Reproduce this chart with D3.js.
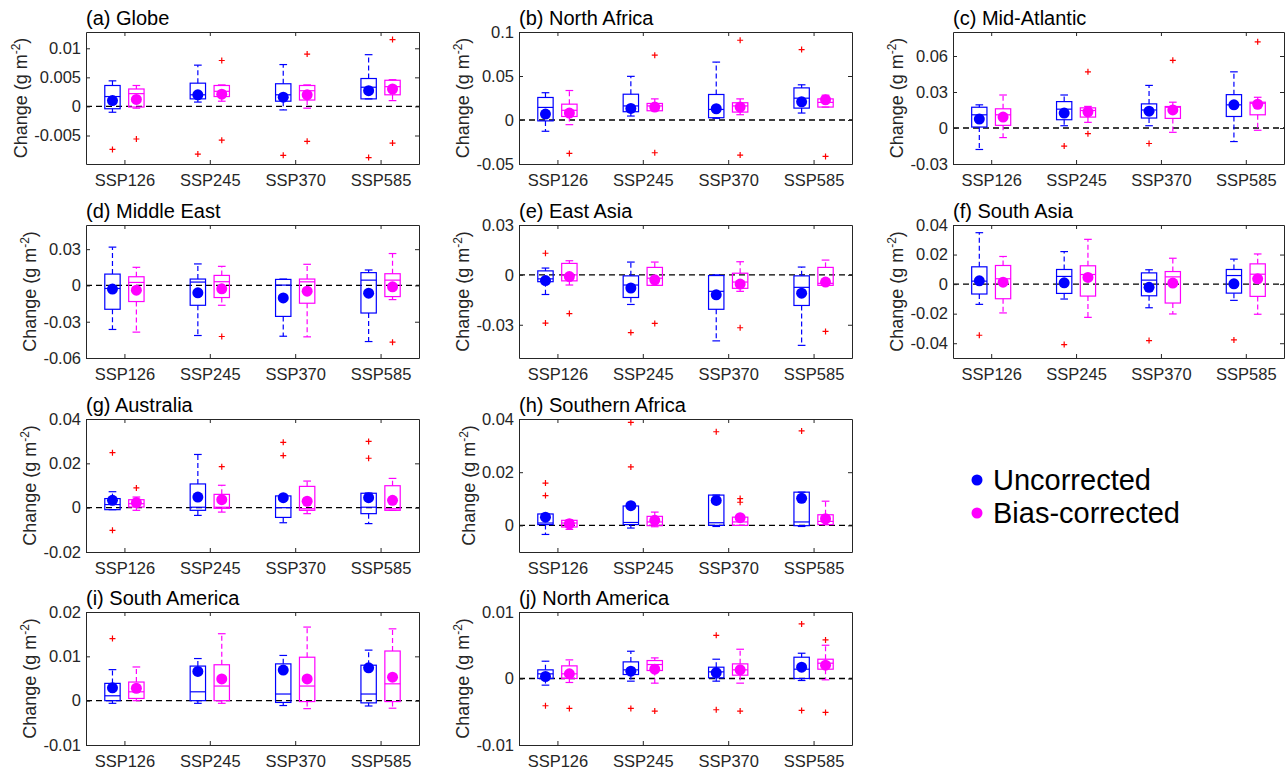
<!DOCTYPE html>
<html>
<head>
<meta charset="utf-8">
<script src="https://cdn.jsdelivr.net/npm/d3@7"></script>
<style>
  body { margin: 0; background: #fff; }
  svg { font-family: "Liberation Sans", Arial, sans-serif; }
  .axis path, .axis line { stroke: #262626; stroke-width: 1; }
  .axis text { fill: #262626; font-size: 16.5px; font-family: "Liberation Sans", Arial, sans-serif; }
</style>
</head>
<body>
<svg id="chart" width="1287" height="770"></svg>
<script>
var scenarios = ["SSP126", "SSP245", "SSP370", "SSP585"];
var panelTitles = ["(a) Globe", "(b) North Africa", "(c) Mid-Atlantic", "(d) Middle East", "(e) East Asia",
                   "(f) South Asia", "(g) Australia", "(h) Southern Africa", "(i) South America", "(j) North America"];
var yDomains = [[-0.0099, 0.0128], [-0.05, 0.1], [-0.03, 0.08], [-0.06, 0.05], [-0.05, 0.03],
                [-0.05, 0.04], [-0.02, 0.04], [-0.01, 0.04], [-0.01, 0.02], [-0.01, 0.01]];
var yTicks = [[-0.005, 0, 0.005, 0.01], [-0.05, 0, 0.05, 0.1], [-0.03, 0, 0.03, 0.06], [-0.06, -0.03, 0, 0.03],
              [-0.03, 0, 0.03], [-0.04, -0.02, 0, 0.02, 0.04], [-0.02, 0, 0.02, 0.04], [0, 0.02, 0.04],
              [-0.01, 0, 0.01, 0.02], [-0.01, 0, 0.01]];
var seriesNames = ["Uncorrected", "Bias-corrected"];

// each row: [lower whisker, q1, median, q3, upper whisker, mean, [outliers]]
var globeUnc = [[-0.001, -0.0004, 0.0017, 0.0036, 0.0044, 0.001, [-0.0074]],
                [0.00075, 0.0013, 0.002, 0.004, 0.0071, 0.002, [-0.0082]],
                [-0.0006, 0.0009, 0.002, 0.0039, 0.0072, 0.0016, [-0.0084]],
                [0.0013, 0.0013, 0.0033, 0.0048, 0.0089, 0.0027, [-0.0088]]];
var globeBc = [[-0.0003, -0.0001, 0.0022, 0.003, 0.0036, 0.0012, [-0.0056]],
               [0.0009, 0.0017, 0.0026, 0.0036, 0.0037, 0.0021, [0.0079, -0.0058]],
               [-0.0003, 0.0011, 0.0027, 0.0036, 0.0037, 0.002, [0.009, -0.006]],
               [0.001, 0.002, 0.0034, 0.0045, 0.0046, 0.003, [0.0115, -0.0063]]];
var nAfricaUnc = [[-0.0128, -0.001, 0.0143, 0.0256, 0.031, 0.0068, []],
                  [0.0045, 0.0094, 0.016, 0.0293, 0.0496, 0.0132, []],
                  [0.0019, 0.0026, 0.012, 0.029, 0.0658, 0.0128, []],
                  [0.0079, 0.0135, 0.0248, 0.0365, 0.04, 0.0207, [0.08]]];
var nAfricaBc = [[-0.0053, 0.004, 0.011, 0.018, 0.0335, 0.0079, [-0.038]],
                 [0.0105, 0.0105, 0.016, 0.0188, 0.024, 0.0147, [0.0737, -0.0372]],
                 [0.006, 0.009, 0.016, 0.0196, 0.024, 0.0147, [0.0906, -0.0399]],
                 [0.0147, 0.0147, 0.02, 0.024, 0.0282, 0.023, [-0.0414]]];
var midAtlUnc = [[-0.0179, 0.0008, 0.011, 0.0173, 0.0193, 0.0074, []],
                 [0.0019, 0.0069, 0.0157, 0.022, 0.0275, 0.0124, [-0.0151]],
                 [0.0019, 0.0083, 0.015, 0.0201, 0.0355, 0.014, [-0.0129]],
                 [-0.0113, 0.0096, 0.0193, 0.0278, 0.0468, 0.0193, []]];
var midAtlBc = [[-0.008, 0.0022, 0.011, 0.016, 0.0275, 0.0091, []],
                [0.0047, 0.0091, 0.0146, 0.0168, 0.018, 0.0135, [0.0468, -0.0047]],
                [-0.0036, 0.008, 0.0173, 0.0179, 0.0215, 0.0151, [0.0564]],
                [-0.0019, 0.011, 0.0206, 0.0215, 0.0256, 0.0198, [0.0718]]];
var midEastUnc = [[-0.0364, -0.0197, -0.0025, 0.0094, 0.0317, -0.003, []],
                  [-0.0414, -0.0164, 0.0028, 0.0053, 0.0178, -0.0061, []],
                  [-0.042, -0.0256, 0.0003, 0.005, 0.0053, -0.0103, []],
                  [-0.0464, -0.0228, 0.0044, 0.0106, 0.0128, -0.0064, []]];
var midEastBc = [[-0.0386, -0.0133, 0.0025, 0.0072, 0.015, -0.0039, []],
                 [-0.0164, -0.01, 0.0031, 0.0083, 0.0158, -0.0028, [-0.0422]],
                 [-0.0425, -0.0147, 0.003, 0.0053, 0.0175, -0.0047, []],
                 [-0.0117, -0.0092, 0.0044, 0.0097, 0.0264, -0.0011, [-0.0469]]];
var eAsiaUnc = [[-0.0118, -0.0041, -0.0024, 0.0024, 0.0041, -0.0034, [0.013, -0.029]],
                [-0.0178, -0.0136, -0.0061, -0.0006, 0.0077, -0.0079, [-0.0347]],
                [-0.0397, -0.0207, -0.0099, -0.0004, 0, -0.012, []],
                [-0.0424, -0.0184, -0.0075, -0.0006, 0.0047, -0.011, []]];
var eAsiaBc = [[-0.0061, -0.0036, 0, 0.0069, 0.0085, -0.001, [-0.0233]],
               [-0.0063, -0.0063, -0.002, 0.0045, 0.0077, -0.003, [-0.0292]],
               [-0.0099, -0.0081, -0.0043, 0.001, 0.0079, -0.0055, [-0.0318]],
               [-0.0063, -0.0063, -0.0051, 0.0045, 0.0089, -0.0043, [-0.034]]];
var sAsiaUnc = [[-0.0137, -0.0067, 0.002, 0.0117, 0.0348, 0.0022, [-0.0346]],
                [-0.0101, -0.0063, 0.0052, 0.0099, 0.022, 0.0009, [-0.0409]],
                [-0.016, -0.0079, 0.0027, 0.0076, 0.0097, -0.0022, [-0.0382]],
                [-0.011, -0.0061, 0.0058, 0.0099, 0.0169, 0.0002, [-0.0378]]];
var sAsiaBc = [[-0.0195, -0.0099, 0.0036, 0.0126, 0.0187, 0.0013, []],
               [-0.0225, -0.0081, 0.0065, 0.0124, 0.0303, 0.0045, []],
               [-0.0202, -0.0128, 0.0049, 0.0085, 0.0175, 0.0007, []],
               [-0.0204, -0.0083, 0.0067, 0.0137, 0.0204, 0.0036, []]];
var ausUnc = [[-0.0009, -0.0009, 0.0014, 0.0041, 0.0072, 0.0033, [0.0248, -0.0102]],
              [-0.0035, -0.0012, 0.0002, 0.0107, 0.024, 0.0048, []],
              [-0.0068, -0.0044, 0, 0.0053, 0.0055, 0.0045, [0.0295, 0.0235]],
              [-0.0072, -0.0027, 0.0002, 0.0065, 0.0066, 0.0045, [0.0299, 0.0223]]];
var ausBc = [[-0.0012, 0.0003, 0.0018, 0.0036, 0.0048, 0.0023, [0.0089]],
             [-0.002, -0.0003, 0.0002, 0.006, 0.0101, 0.0036, [0.0185]],
             [-0.0027, -0.0012, -0.0005, 0.0096, 0.012, 0.0029, []],
             [-0.0012, -0.0012, -0.0005, 0.0099, 0.0132, 0.0033, []]];
var sAfricaUnc = [[-0.0034, 0.0003, 0.0009, 0.0043, 0.0044, 0.0031, [0.0159, 0.0112]],
                  [-0.001, 0.0003, 0.0011, 0.0073, 0.0074, 0.0074, [0.0387, 0.022]],
                  [-0.0004, 0, 0.001, 0.0114, 0.0114, 0.0094, [0.0352]],
                  [-0.0004, -0.0001, 0.0013, 0.0125, 0.0125, 0.0102, [0.0355]]];
var sAfricaBc = [[-0.0015, -0.0006, 0.0009, 0.0019, 0.0021, 0.0006, []],
                 [-0.0005, -0.0001, 0.0013, 0.0034, 0.005, 0.0019, []],
                 [0, 0, 0.0013, 0.0031, 0.0031, 0.0029, [0.0101, 0.0087]],
                 [0.0003, 0.0003, 0.0015, 0.004, 0.0091, 0.0025, []]];
var sAmericaUnc = [[-0.0006, 0, 0.0011, 0.0039, 0.007, 0.0029, [0.014]],
                   [-0.0006, 0, 0.002, 0.0078, 0.0095, 0.0066, []],
                   [-0.0011, -0.0004, 0.0015, 0.0083, 0.0102, 0.0069, []],
                   [-0.0012, -0.0005, 0.0015, 0.008, 0.0114, 0.0074, []]];
var sAmericaBc = [[0, 0.0005, 0.002, 0.0042, 0.0076, 0.0028, []],
                  [-0.0006, 0, 0.0033, 0.0081, 0.0151, 0.0049, []],
                  [-0.0018, -0.0002, 0.0033, 0.0098, 0.0166, 0.0049, []],
                  [-0.0017, -0.0002, 0.0038, 0.0112, 0.0162, 0.0053, []]];
var nAmericaUnc = [[-0.001, 0, 0.0007, 0.0013, 0.0026, 0.0003, [-0.0041]],
                   [-0.0004, 0.0006, 0.0013, 0.0025, 0.0041, 0.0011, [-0.0045]],
                   [-0.0004, 0.0001, 0.001, 0.0017, 0.0029, 0.0009, [0.0065, -0.0047]],
                   [-0.0003, 0, 0.0014, 0.0032, 0.0038, 0.0017, [0.0082, -0.0048]]];
var nAmericaBc = [[-0.0006, 0, 0.0007, 0.0019, 0.0028, 0.0007, [-0.0045]],
                  [-0.0007, 0.0012, 0.0021, 0.0027, 0.0031, 0.0014, [-0.0049]],
                  [-0.0007, 0.0005, 0.0013, 0.0022, 0.0044, 0.0013, [-0.0049]],
                  [-0.0002, 0.0014, 0.0023, 0.0029, 0.005, 0.002, [0.0058, -0.0051]]];

var panelData = [[globeUnc, globeBc], [nAfricaUnc, nAfricaBc], [midAtlUnc, midAtlBc],
                 [midEastUnc, midEastBc], [eAsiaUnc, eAsiaBc], [sAsiaUnc, sAsiaBc],
                 [ausUnc, ausBc], [sAfricaUnc, sAfricaBc], [sAmericaUnc, sAmericaBc],
                 [nAmericaUnc, nAmericaBc]];

var colors = ["#0000ff", "#ff00ff"];
var colX = [[86, 419], [519, 852], [953, 1284]];
var rowY = [[32, 164], [225, 358], [419, 552], [612, 745]];
var panelPos = [[0, 0], [0, 1], [0, 2], [1, 0], [1, 1], [1, 2], [2, 0], [2, 1], [3, 0], [3, 1]];

var svg = d3.select("#chart");

function drawPanel(i) {
  var r = panelPos[i][0], c = panelPos[i][1];
  var w = colX[c][1] - colX[c][0];
  var h = rowY[r][1] - rowY[r][0];
  var g = svg.append("g").attr("transform", "translate(" + colX[c][0] + "," + rowY[r][0] + ")");

  var x = d3.scaleLinear().domain([0.55, 4.45]).range([0, w]);
  var y = d3.scaleLinear().domain(yDomains[i]).range([h, 0]);
  var halfBox = x(0.09) - x(0);

  // zero reference line
  g.append("line")
   .attr("x1", 0).attr("x2", w)
   .attr("y1", y(0)).attr("y2", y(0))
   .attr("stroke", "#000").attr("stroke-width", 1.3)
   .attr("stroke-dasharray", "6,4");

  panelData[i].forEach(function(series, s) {
    var col = colors[s];
    series.forEach(function(d, k) {
      var cx = x(k + 1 + (s === 0 ? -0.14 : 0.14));
      var bg = g.append("g");
      // whiskers
      bg.append("line").attr("x1", cx).attr("x2", cx).attr("y1", y(d[3])).attr("y2", y(d[4]))
        .attr("stroke", col).attr("stroke-width", 1.2).attr("stroke-dasharray", "5,3");
      bg.append("line").attr("x1", cx).attr("x2", cx).attr("y1", y(d[1])).attr("y2", y(d[0]))
        .attr("stroke", col).attr("stroke-width", 1.2).attr("stroke-dasharray", "5,3");
      // caps
      [d[0], d[4]].forEach(function(v) {
        bg.append("line").attr("x1", cx - halfBox / 2).attr("x2", cx + halfBox / 2)
          .attr("y1", y(v)).attr("y2", y(v))
          .attr("stroke", col).attr("stroke-width", 1.2);
      });
      // box
      bg.append("rect")
        .attr("x", cx - halfBox).attr("width", halfBox * 2)
        .attr("y", y(d[3])).attr("height", Math.max(0.5, y(d[1]) - y(d[3])))
        .attr("fill", "none").attr("stroke", col).attr("stroke-width", 1.2);
      // median
      bg.append("line").attr("x1", cx - halfBox).attr("x2", cx + halfBox)
        .attr("y1", y(d[2])).attr("y2", y(d[2]))
        .attr("stroke", col).attr("stroke-width", 1.2);
      // outliers
      d[6].forEach(function(v) {
        var oy = y(v);
        bg.append("path")
          .attr("d", "M" + (cx - 3) + "," + oy + "H" + (cx + 3) + "M" + cx + "," + (oy - 3) + "V" + (oy + 3))
          .attr("stroke", "#ff0000").attr("stroke-width", 1.2);
      });
      // mean
      bg.append("circle").attr("cx", cx).attr("cy", y(d[5])).attr("r", 5.5).attr("fill", col);
    });
  });

  // axes box with inward ticks
  g.append("g").attr("class", "axis")
   .attr("transform", "translate(0," + h + ")")
   .call(d3.axisBottom(x).tickValues([1, 2, 3, 4]).tickSizeInner(-4).tickSizeOuter(0).tickPadding(10)
           .tickFormat(function(d) { return scenarios[d - 1]; }));
  g.append("g").attr("class", "axis")
   .call(d3.axisTop(x).tickValues([1, 2, 3, 4]).tickSizeInner(-4).tickSizeOuter(0).tickFormat(""));
  var left = g.append("g").attr("class", "axis")
   .call(d3.axisLeft(y).tickValues(yTicks[i]).tickSizeInner(-4).tickSizeOuter(0).tickPadding(5)
           .tickFormat(function(d) { return String(d); }));
  g.append("g").attr("class", "axis")
   .attr("transform", "translate(" + w + ",0)")
   .call(d3.axisRight(y).tickValues(yTicks[i]).tickSizeInner(-4).tickSizeOuter(0).tickFormat(""));

  var maxW = 0;
  left.selectAll("text").each(function() { maxW = Math.max(maxW, this.getComputedTextLength()); });

  // y label
  var lab = g.append("text")
   .attr("transform", "translate(" + (-maxW - 12) + "," + (h / 2) + ") rotate(-90)")
   .attr("text-anchor", "middle")
   .attr("fill", "#262626")
   .style("font-size", "18px")
   .text("Change (g m");
  lab.append("tspan").attr("dy", -7).style("font-size", "12px").text("-2");
  lab.append("tspan").attr("dy", 7).text(")");

  // panel title
  g.append("text")
   .attr("x", 0).attr("y", -7)
   .attr("fill", "#000")
   .style("font-size", "20px")
   .text(panelTitles[i]);
}

for (var i = 0; i < panelTitles.length; i++) drawPanel(i);

// legend
var legend = svg.append("g");
seriesNames.forEach(function(name, s) {
  legend.append("circle").attr("cx", 977).attr("cy", 480 + s * 33).attr("r", 5.5).attr("fill", colors[s]);
  legend.append("text").attr("x", 993).attr("y", 490 + s * 33)
        .attr("fill", "#000").style("font-size", "29px").text(name);
});
</script>
</body>
</html>
